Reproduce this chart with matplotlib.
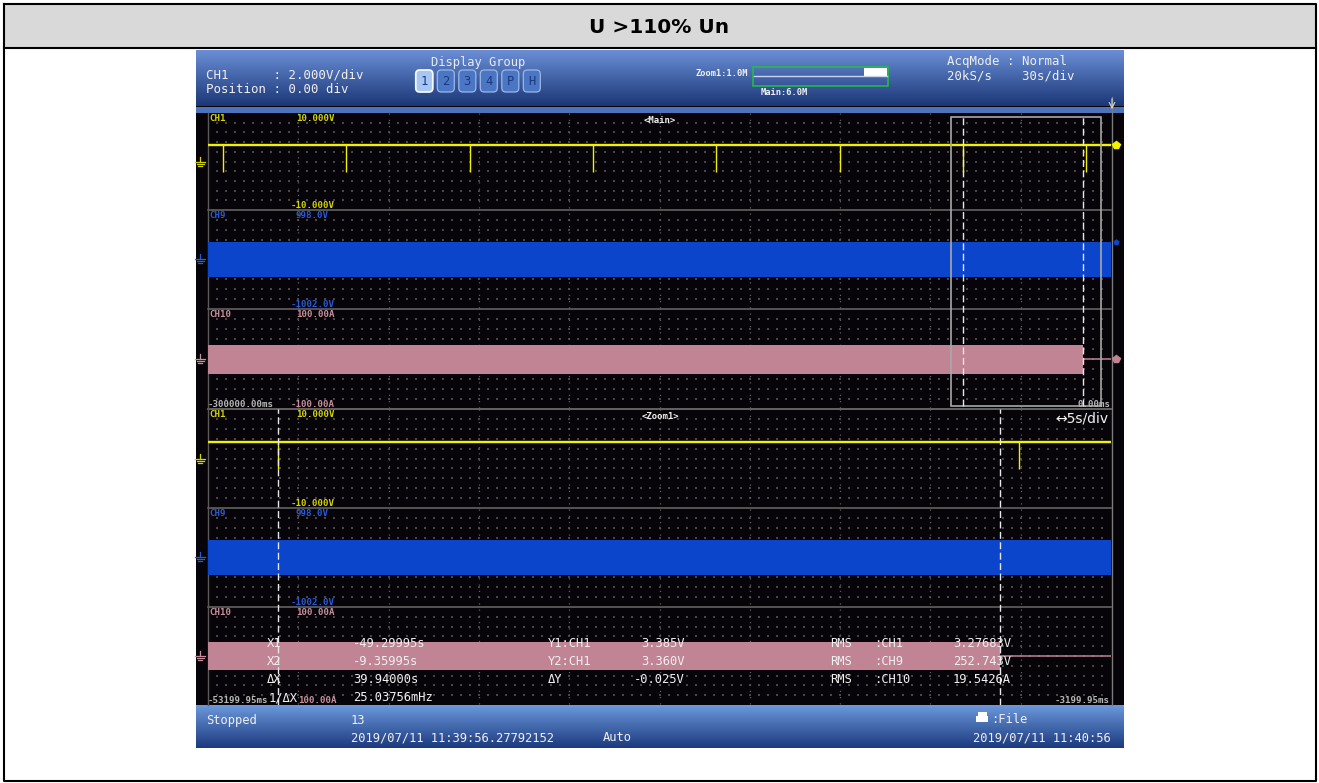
import matplotlib.pyplot as plt
import numpy as np
from matplotlib.patches import Rectangle, FancyBboxPatch
from matplotlib.colors import to_rgb

W, H = 1319, 783

title = "U >110% Un"

# time windows (s): main 30 s/div, zoom 5 s/div
main_t = (-300.0, 0.0)
zoom_t = (-53.19995, -3.19995)

# channels: CH1, CH9, CH10
ch_names = ["CH1", "CH9", "CH10"]
ch_top = ["10.000V", "998.0V", "100.00A"]
ch_bottom = ["-10.000V", "-1002.0V", "-100.00A"]
ch_range = [(-10.0, 10.0), (-1002.0, 998.0), (-100.0, 100.0)]

ch1_level = 3.3          # V
ch1_spike_min = -2.1     # V
ch1_spikes = [-295.1, -254.0, -213.0, -172.1, -131.2, -89.9, -49.3, -8.3]
ch9_peak = 360.0         # V
ch10_peak = 29.0         # A
ch10_off = -9.36         # s, current drops to zero here
cursor_x = [-49.29995, -9.35995]

meas_x_labels = ["X1", "X2", "ΔX", "1/ΔX"]
meas_x_values = ["-49.29995s", "-9.35995s", "39.94000s", "25.03756mHz"]
meas_y_labels = ["Y1:CH1", "Y2:CH1", "ΔY"]
meas_y_values = ["3.385V", "3.360V", "-0.025V"]
rms_labels = [":CH1", ":CH9", ":CH10"]
rms_values = ["3.27683V", "252.743V", "19.5426A"]

groups = ["1", "2", "3", "4", "P", "H"]

YEL, BLU, PNK = "#f2f200", "#0a45cc", "#c08494"
YEL_T, BLU_T, PNK_T = "#d4d400", "#2a5ad8", "#c8909c"
ch_colors = [YEL_T, BLU_T, PNK_T]
MONO = "DejaVu Sans Mono"
SMALL = 6.6

X0, X1 = 208, 1111
main_rows = [113, 210, 309, 409]
zoom_rows = [409, 508, 607, 705]

fig = plt.figure(figsize=(W / 100, H / 100), dpi=100)
fig.patch.set_facecolor("white")


def pix_axes(z):
    ax = fig.add_axes([0, 0, 1, 1], zorder=z)
    ax.set_xlim(0, W)
    ax.set_ylim(H, 0)
    ax.axis("off")
    ax.patch.set_alpha(0)
    return ax


def txt(ax, x, yc, s, color="#f0f0f0", size=8.7, ha="left", weight="normal", family=MONO):
    em = size * 100 / 72
    ax.text(x, yc + 0.36 * em, s, color=color, fontsize=size, ha=ha, va="baseline",
            family=family, fontweight=weight)


def gradient(ax, x0, x1, y0, y1, c0, c1):
    c0, c1 = np.array(to_rgb(c0)), np.array(to_rgb(c1))
    f = np.linspace(0, 1, 64)[:, None]
    img = (c0 * (1 - f) + c1 * f)[:, None, :]
    ax.imshow(img, extent=(x0, x1, y1, y0), aspect="auto", interpolation="bilinear", zorder=1)


bg = pix_axes(0)

# table cell
bg.add_patch(Rectangle((4, 4), 1311, 44, fc="#d9d9d9", ec="none"))
bg.plot([3.5, 1315.5, 1315.5, 3.5, 3.5], [3.5, 3.5, 780.5, 780.5, 3.5], color="black", lw=1.5)
bg.plot([3.5, 1315.5], [48, 48], color="black", lw=1.5)
txt(bg, 659.5, 26, title, color="black", size=14.5, ha="center", weight="bold", family="DejaVu Sans")

# scope screen
bg.add_patch(Rectangle((196, 50), 928, 698, fc="#060408", ec="none", zorder=0.5))
gradient(bg, 196, 1124, 50, 106, "#6a8ed6", "#1b3776")
bg.add_patch(Rectangle((196, 107), 928, 6, fc="#4d74bb", ec="none", zorder=2))
gradient(bg, 196, 1124, 705, 748, "#6c98dc", "#1c3a7e")

# grid
for rows in (main_rows, zoom_rows):
    for y0, y1 in zip(rows[:-1], rows[1:]):
        gx = np.linspace(X0, X1, 101)[1:-1]
        gy = y0 + (y1 - y0) * np.arange(1, 10) / 10
        xx, yy = np.meshgrid(gx, gy)
        bg.scatter(xx.ravel(), yy.ravel(), s=0.9, marker="s", c="#474747", linewidths=0, zorder=3)
    for i in range(1, 10):
        xd = X0 + (X1 - X0) * i / 10
        bg.plot([xd, xd], [rows[0], rows[-1]], color="#5e5e5e", lw=0.9, ls=(0, (1, 4)), zorder=3)
for yl in [210, 309, 409, 508, 607]:
    bg.plot([X0, X1], [yl, yl], color="#6a6a6a", lw=1.3 if yl == 409 else 1.1, zorder=3)
bg.plot([X0, X0], [113, 705], color="#5a5a5a", lw=1, zorder=3)
bg.plot([X1 + 1, X1 + 1], [97, 705], color="#7a7a7a", lw=1, zorder=3)
bg.annotate("", xy=(1112, 112), xytext=(1112, 96),
            arrowprops=dict(arrowstyle="->", color="#d8d8d8", lw=0.8), zorder=4)


def panel(y0, y1, t_range, ch):
    ax = fig.add_axes([X0 / W, 1 - y1 / H, (X1 - X0) / W, (y1 - y0) / H], zorder=5)
    ax.set_xlim(*t_range)
    ax.set_ylim(*ch_range[ch])
    ax.axis("off")
    ax.patch.set_alpha(0)
    return ax


for rows, t_range, is_main in ((main_rows, main_t, True), (zoom_rows, zoom_t, False)):
    # CH1
    ax = panel(rows[0], rows[1], t_range, 0)
    ax.hlines(ch1_level, *t_range, color=YEL, lw=1.7)
    sp = [s for s in ch1_spikes if t_range[0] <= s <= t_range[1]]
    ax.vlines(sp, ch1_spike_min, ch1_level, color=YEL, lw=1.0)
    if is_main:
        ax.plot([1.005], [ch1_level], marker="p", ms=5.5, color=YEL, clip_on=False,
                transform=ax.get_yaxis_transform())
    # CH9
    ax = panel(rows[1], rows[2], t_range, 1)
    ax.fill_between(list(t_range), -ch9_peak, ch9_peak, color=BLU, lw=0)
    if is_main:
        ax.plot([1.005], [ch9_peak], marker="p", ms=3.5, color=BLU, clip_on=False,
                transform=ax.get_yaxis_transform())
    # CH10
    ax = panel(rows[2], rows[3], t_range, 2)
    ax.fill_between([t_range[0], ch10_off], -ch10_peak, ch10_peak, color=PNK, lw=0)
    ax.hlines(0, ch10_off, t_range[1], color=PNK, lw=1.1)
    if is_main:
        ax.plot([1.005], [0], marker="p", ms=5.5, color=PNK, clip_on=False,
                transform=ax.get_yaxis_transform())

    # cursors and zoom box over the whole window
    wa = fig.add_axes([X0 / W, 1 - rows[3] / H, (X1 - X0) / W, (rows[3] - rows[0]) / H], zorder=6)
    wa.set_xlim(*t_range)
    wa.set_ylim(0, 1)
    wa.axis("off")
    wa.patch.set_alpha(0)
    if is_main:
        for c in cursor_x:
            wa.plot([c, c], [0.01, 0.988], color="#e8e8e8", lw=1, ls=(0, (5, 2.5)))
        wa.add_patch(Rectangle((zoom_t[0], 0.01), zoom_t[1] - zoom_t[0], 0.978,
                               fc="none", ec="#a8a8a8", lw=1.2))
    else:
        for c in cursor_x:
            wa.plot([c, c], [0.0, 1.0], color="#e8e8e8", lw=1, ls=(0, (5, 2.5)))

ov = pix_axes(10)


# ground markers at each channel's zero level
def ground(yc, color):
    ov.plot([200, 200], [yc - 5, yc], color=color, lw=0.9)
    for k, w in enumerate([5, 3.5, 1.8]):
        ov.plot([200 - w, 200 + w], [yc + 2 * k, yc + 2 * k], color=color, lw=0.9)


for rows in (main_rows, zoom_rows):
    for ch in range(3):
        lo, hi = ch_range[ch]
        y0, y1 = rows[ch], rows[ch + 1]
        ground(y1 - (0 - lo) / (hi - lo) * (y1 - y0), ch_colors[ch])

# header texts
txt(ov, 206, 74, "CH1      : 2.000V/div", size=8.9)
txt(ov, 206, 89, "Position : 0.00 div", size=8.9)
txt(ov, 431, 62, "Display Group", color="#e6ecf8")
for i, g in enumerate(groups):
    cx = 424.3 + 21.5 * i
    sel = i == 0
    ov.add_patch(FancyBboxPatch((cx - 8.5, 70), 17, 22, boxstyle="round,pad=0,rounding_size=4",
                                fc="#a8c6f2" if sel else "#4a76c4",
                                ec="#f4f8ff" if sel else "#9ab8e8", lw=1.3 if sel else 0.9))
    txt(ov, cx, 81, g, color="#1a3a80", ha="center")
txt(ov, 696, 73, "Zoom1:1.0M", size=6.3, weight="bold")
txt(ov, 761, 92, "Main:6.0M", size=6.3, weight="bold")
ov.add_patch(Rectangle((753, 67), 135, 19, fc="none", ec="#22c044", lw=1.1))
ov.plot([754, 887], [76, 76], color="#c8d4ec", lw=1)
ov.add_patch(Rectangle((864, 68), 23, 8, fc="white", ec="none"))
txt(ov, 947, 61, "AcqMode : Normal", size=8.9)
txt(ov, 947, 75, "20kS/s    30s/div", size=8.9)

# channel labels
for rows, t_range, tag, is_main in ((main_rows, main_t, "<Main>", True),
                                    (zoom_rows, zoom_t, "<Zoom1>", False)):
    for ch in range(3):
        y0, y1 = rows[ch], rows[ch + 1]
        txt(ov, 209, y0 + 5, ch_names[ch], color=ch_colors[ch], size=SMALL, weight="bold")
        txt(ov, 296, y0 + 5, ch_top[ch], color=ch_colors[ch], size=SMALL, weight="bold")
        if ch == 2 and not is_main:
            # the minus sign is hidden behind the 1/ΔX readout in the zoom window
            txt(ov, 298, y1 - 5, ch_bottom[ch].lstrip("-"), color=ch_colors[ch], size=SMALL,
                weight="bold")
        else:
            txt(ov, 291, y1 - 5, ch_bottom[ch], color=ch_colors[ch], size=SMALL, weight="bold")
    txt(ov, 660, rows[0] + 7, tag, size=6.5, ha="center", weight="bold")
    t_end = 0.0 if t_range[1] == 0 else t_range[1]
    txt(ov, 208, rows[3] - 5, f"{t_range[0] * 1000:.2f}ms", color="#b8b8b8", size=SMALL,
        weight="bold")
    txt(ov, 1110, rows[3] - 5, f"{t_end * 1000:.2f}ms", color="#b8b8b8", size=SMALL,
        ha="right", weight="bold")
txt(ov, 1055, 418, "↔5s/div", size=10, family="DejaVu Sans")

# measurements
rows_y = [643, 661, 679, 697]
for i, (lab, val) in enumerate(zip(meas_x_labels, meas_x_values)):
    txt(ov, 269 if i == 3 else 267, rows_y[i], lab)
    txt(ov, 353, rows_y[i], val)
for i, (lab, val) in enumerate(zip(meas_y_labels, meas_y_values)):
    txt(ov, 548, rows_y[i], lab)
    txt(ov, 685, rows_y[i], val, ha="right")
for i, (lab, val) in enumerate(zip(rms_labels, rms_values)):
    txt(ov, 830, rows_y[i], "RMS")
    txt(ov, 874, rows_y[i], lab)
    txt(ov, 953, rows_y[i], val)

# status bar
txt(ov, 206, 720, "Stopped")
txt(ov, 351, 720, "13")
txt(ov, 351, 737, "2019/07/11 11:39:56.27792152")
txt(ov, 603, 737, "Auto")
ov.add_patch(Rectangle((976, 716), 12, 6, fc="white", ec="none"))
ov.add_patch(Rectangle((978, 712), 9, 4, fc="white", ec="none"))
txt(ov, 991, 719, ":File")
txt(ov, 973, 737, "2019/07/11 11:40:56")

for a in (bg, ov):
    a.set_xlim(0, W)
    a.set_ylim(H, 0)

fig.savefig("out.png", dpi=100)
